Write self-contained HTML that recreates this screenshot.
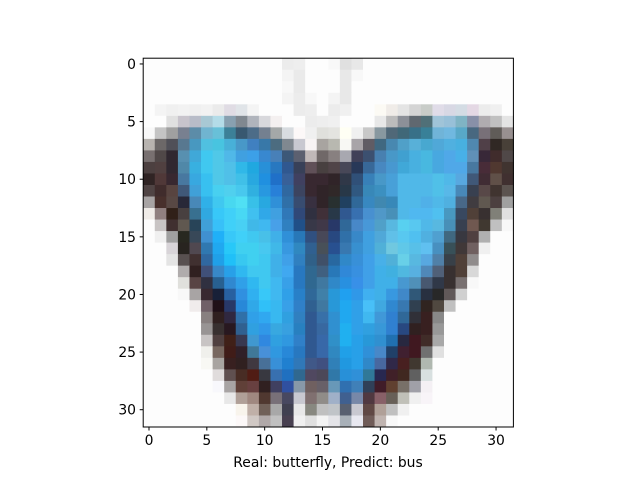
<!DOCTYPE html>
<html><head><meta charset="utf-8"><style>
html,body{margin:0;padding:0;background:#fff;}
svg{display:block;font-family:"DejaVu Sans","Liberation Sans",sans-serif;}
</style></head><body>
<svg id="chart" width="640" height="480" viewBox="0 0 640 480" xmlns="http://www.w3.org/2000/svg">
<rect width="640" height="480" fill="#fff"/>
<g id="cells"></g>
<rect x="143.2" y="58.2" width="370.2" height="368.8" fill="none" stroke="#000" stroke-width="1"/>
<g id="axes"></g>
<text x="328" y="467" font-size="13.9" text-anchor="middle">Real: butterfly, Predict: bus</text>
</svg>
<script>
const xTicks=[0,5,10,15,20,25,30];
const yTicks=[0,5,10,15,20,25,30];
const rows=[
"W W W W W W W W W W W W ececec eeeeee W W f8f8f8 e0e0e0 e8e8e8 W W W W W W W W W W W W W",
"W W W W W W W W W W W W f4f4f4 eaeaea W W W e8e8e8 f8f8f8 W W W W W W W W W W W W W",
"W W W W W W W W W W W W f8f8f8 eaeaea W W W e8e8e8 W W W W W W W W W W W W W W",
"W W W W W W W W W W W W f4f4f4 ececec f8f8f8 W f4f4f4 e8e8e8 W W W W W W W W W W W W W W",
"W f4f4f4 f0f0f0 f2f2f2 f0f0f0 f2f2f2 ebebeb e0dce4 e0e4e8 f4f4f4 W W W ececec eeeeee W ececec f0f0f0 W W fcfaf4 f0ece8 e4e4e4 d4d4d4 c8ccc8 e0dce8 d8d8e4 d4dce4 e4d8e4 ececec f0f0f0 W",
"W W e0e0e0 c8c4cc b8bcc8 a8c8d4 b4dce8 88a0b0 808890 b0b4bc d8d8dc f4f0f0 W W ececec eeeeee f0f0f0 W W W e8e8e8 bcbcbc 8c9098 606870 507078 a0c4d8 98c0d8 80b4c4 8890a8 b0acb0 c0c0c0 e4e4e4",
"f8f8f8 c4c4c4 a0a0a0 788090 5c8ca8 70b4d0 68c0d8 3c8098 385870 4c6c88 748090 a4a8a8 d8dce0 fcf8f8 f0f0f0 e0e0dc e4e4e0 fffff4 f0f0f0 c8c8c8 8898a0 506878 406878 387088 388098 70b4d8 70b8e0 58a8c8 486880 787078 605c58 989090",
"b8b4b0 6c6868 505058 587890 4898c0 50c0e0 48c4e0 48b0d8 4898c8 4080c0 3878a8 4c6c80 808890 c8c8d0 f8f4f4 a8a4a0 b8b8b0 f8f8f4 a8a4a8 605c64 406880 4888b0 50a0c8 58b0d8 48a8d0 50a8d8 50b0e0 48b0e0 5088b0 504048 302824 484038",
"787070 504848 302830 5890b0 40a8d8 40c8f0 50c8e8 50b8e8 40a0e0 3ca0e8 3888d0 4880b8 3c5878 5c6070 c0b8b8 706868 888080 a8a8b0 404058 3c5070 4880b0 4898c8 40a0d0 48b0e0 48b8e0 48a8e0 50a8e8 48b0e8 6090b8 382838 402c2c 504848",
"4c4040 504040 302830 5088a8 38b0e0 40c8f0 50c8e8 50c0e8 30b8e8 20a8e0 2890d8 2878c0 305890 384058 605058 484040 504448 484858 283858 386898 4888c0 4898d0 40a8d8 48b0e0 48b8e0 48a8e0 50a8e8 50a8e8 4878a0 482c38 503830 403430",
"302424 503838 382830 4878a0 38a8e0 38c0f0 50c8e8 50c0e8 40c0e8 28a8e0 2090e0 2070c8 386098 404060 382830 382830 302428 303848 305078 3880b8 4898c8 48a0d8 50b8e8 50b8e8 50b8e8 50c0e8 50b8e8 58a8e0 405878 402c34 605048 403030",
"504444 402c2c 584440 405878 40a0d8 38c0f0 48d0f0 50d0ee 48c8ee 30b0e0 2898e0 2880d8 3068a0 3c4460 382830 302428 302828 283848 305880 3888b8 3c90c0 48a0d8 50b8e8 50b8e8 50b8e8 50c0e8 58b8e8 4888b8 384050 584848 403430 5c5450",
"a8a4a4 48302c 584844 282838 4888b8 30b0e8 40c8f0 48d8f0 50e0f4 38c0e8 28a8e0 3090d8 3070a8 384c70 383040 302428 283030 204060 306898 3888c0 4088b0 3888b8 50b8e8 50b8e8 50b0e8 50b8e8 50b0e0 486888 403c40 605850 4c4040 a0a0a0",
"f0ece8 908080 302018 484040 387090 30a8e0 38c8f8 40d0f8 48d8f4 40c0f0 30a8e8 40a0e0 3078b8 304878 303040 403038 283848 305890 3870b0 4890d0 5098c8 4890b8 50b8e8 50b8f0 50b8f0 50c0f0 4898c0 384860 504038 383030 808078 e0e0e0",
"W c8c4c4 403030 605850 284458 40a0d8 38c0f8 40d0f8 48d0f4 40b8e8 40b8f0 48a0e8 3080c0 205088 383848 403848 283868 306898 4888c8 4898d8 50a0c8 58b8e0 58d0f0 58c8f0 50b8e8 58b8e0 4890b8 384050 705850 403830 c0c0c0 f8f8f8",
"W f0f0f0 a0a0a0 282820 384858 4090d0 20b0f8 38c8f8 40d0f8 40c8f0 48c0e8 40b0e8 3090d8 2878b8 305080 484858 284880 3070a8 3888c8 40a0e0 50a8d8 60c0e8 58c8f0 50c0f0 50b0e0 50a0d0 406880 383840 504040 b0b0b0 W W",
"W W d8d4d8 282420 504850 3078b0 20a8f0 28c8f8 40d0f0 40d0f0 48c8f0 40b8e8 3898e0 3088c0 306090 485058 285090 3878b0 3890d0 40a0e0 50b0d8 70c8e0 60c8e8 58c0e8 60c0f0 4890c0 385058 403838 706060 f0f0f0 W W",
"W W e4e4e4 585050 403030 3068a0 20a0e8 20c0f8 38c8f0 40d0f0 40c8f0 40b0e8 40a0e8 3080c0 306088 405068 2868a0 3088c8 3890d8 40a0e8 48b0e8 50b0d8 68d0e8 58b8e0 58a8e0 5080a8 384048 504038 908c8c W W W",
"W W W b0acac 302020 405078 3888c8 28a0e8 30b8f0 40c8f0 40c8f0 40b0e8 40a8f0 2878c0 306890 406080 2878b8 3088d8 3890e0 40a0e8 40b0e8 40b0e0 50b8e0 58b0e0 5088b8 506078 383030 504038 d8d8d8 W W W",
"W W W e0e0dc 584444 303040 286090 3088d0 30a0e8 30b8f0 40c8f0 40b8f0 38a0e8 2878c0 306890 4078a0 3088c8 2890e0 3890e8 40a0e8 40b0e8 40b0e8 4898d0 5090b8 485870 303848 383030 787070 f8f8f8 W W W",
"W W W f8f8f8 a8a4a4 382830 182038 2860a0 3090e0 30b0f0 38c8f8 40b8f0 30a0e8 2880c8 306898 4080a8 2898d8 20a0f0 3098e8 40b0f0 40b0e8 3898e0 4088c8 305878 283040 282828 605858 d0d0d0 W W W W",
"W W W W f0ecec 706068 201018 283868 2888d8 30a8e8 30c0f8 38b8f0 38a0e8 3080c8 306090 4078a0 2898d8 20a8f0 30a0e8 48c0f8 40a8e0 3088d0 3878b0 304050 302420 504840 c0c0c0 W W W W W",
"W W W W W 888080 302020 302840 3070a8 30a0e8 30a8f0 38b8f0 30a0e0 3080c0 305890 3870a8 3090d0 20a8f0 30a0e8 40b8f0 4098d8 3080d0 306898 303038 382020 888888 W W W W W W",
"W W W W W 989494 383030 281820 306090 30a0e0 3098e8 38a8e0 38a0e0 2880c0 305890 3868a0 3090d0 20b0f0 30a0e8 30a0e0 3898d8 3080d0 284880 302020 382020 989898 W W W W W W",
"W W W W W c8c4c4 504040 402018 383850 4098d0 3088e0 30a0e0 3098e0 3080c8 305890 3868a8 3090c8 20b0f0 28a0e8 2898d8 3090d0 2070b0 282840 401820 402c28 a8a8a8 W W W W W W",
"W W W W W f0f0ec 786860 401c18 302028 407898 4890d8 3098e0 2888d8 2878c0 305890 3868a8 3088c0 20a0e8 28a0e8 3090d8 4888c8 204068 402030 401820 707070 e0e0e0 W W W W W W",
"W W W W W f8f8f4 a8a4a0 382020 302020 403840 487098 3890d8 2080d0 3078b8 405888 405080 3080b8 2098e0 28a0e8 3088c8 4868a0 302848 482020 403830 b0b8b0 W W W W W W W",
"W W W W W W e0dcdc 605050 482c24 501c14 383840 3870b0 2070c0 306890 504860 4c4858 3078a8 2890d8 3090d8 307898 282850 402028 402820 606060 d8e0e0 W W W W W W W",
"W W W W W W f8f8fc a8a4a4 604038 684040 302020 404060 3050a0 8898a8 706060 686068 6898b8 3070b0 4080b8 304058 401c28 604030 787068 a0a0a8 f4f0f4 W W W W W W W",
"W W W W W W W e8e8e8 b0a098 a08880 503830 787078 484860 c8c8d0 807070 908c88 a0b0c8 406090 7888a8 503840 886068 686058 c0c0b8 f0f0f0 f8f4f8 W W W W W W W",
"W W W W W W W W f8f4ec c0b0a8 706058 a8a8a8 404050 e8e8e8 888880 c0c0c0 c0c4c8 586070 c8c8d0 604844 b0a098 c0c0c0 f0f0f0 W W W W W W W W W",
"W W W W W W W W fcf8f8 d0c8c4 b0a8a8 c0c0c0 484050 f0f0f0 e0e0e0 f4f4f4 e4e4e8 a8b0b8 e8e8f0 705c58 c0b4b0 f8f8f8 W W W W W W W W W W"
];
const NS="http://www.w3.org/2000/svg";
const X0=143.2,Y0=58.2,W=370.2,H=368.8,N=32;
const cw=W/N,ch=H/N;
function xs(v){return X0+(v+0.5)*cw;}
function ys(v){return Y0+(v+0.5)*ch;}
const cells=document.getElementById('cells');
rows.forEach((row,r)=>{
  row.split(' ').forEach((tok,c)=>{
    const col=tok==='W'?'#fdfdfd':'#'+tok;
    const rc=document.createElementNS(NS,'rect');
    rc.setAttribute('x',(xs(c)-cw/2).toFixed(2));
    rc.setAttribute('y',(ys(r)-ch/2).toFixed(2));
    rc.setAttribute('width',(cw+0.4).toFixed(2));
    rc.setAttribute('height',(ch+0.4).toFixed(2));
    rc.setAttribute('fill',col);
    
    
    cells.appendChild(rc);
  });
});
const axes=document.getElementById('axes');
xTicks.forEach(t=>{
  const x=xs(t);
  const l=document.createElementNS(NS,'line');
  l.setAttribute('x1',x);l.setAttribute('x2',x);l.setAttribute('y1',427);l.setAttribute('y2',430.5);
  l.setAttribute('stroke','#000');
  
  
  axes.appendChild(l);
  const tx=document.createElementNS(NS,'text');
  tx.setAttribute('x',x);tx.setAttribute('y',445);tx.setAttribute('font-size','13.9');tx.setAttribute('text-anchor','middle');
  tx.textContent=t;
  
  
  axes.appendChild(tx);
});
yTicks.forEach(t=>{
  const y=ys(t);
  const l=document.createElementNS(NS,'line');
  l.setAttribute('x1',139.7);l.setAttribute('x2',143.2);l.setAttribute('y1',y);l.setAttribute('y2',y);
  l.setAttribute('stroke','#000');
  
  
  axes.appendChild(l);
  const tx=document.createElementNS(NS,'text');
  tx.setAttribute('x',136);tx.setAttribute('y',y+5);tx.setAttribute('font-size','13.9');tx.setAttribute('text-anchor','end');
  tx.textContent=t;
  
  
  axes.appendChild(tx);
});
</script>
</body></html>
